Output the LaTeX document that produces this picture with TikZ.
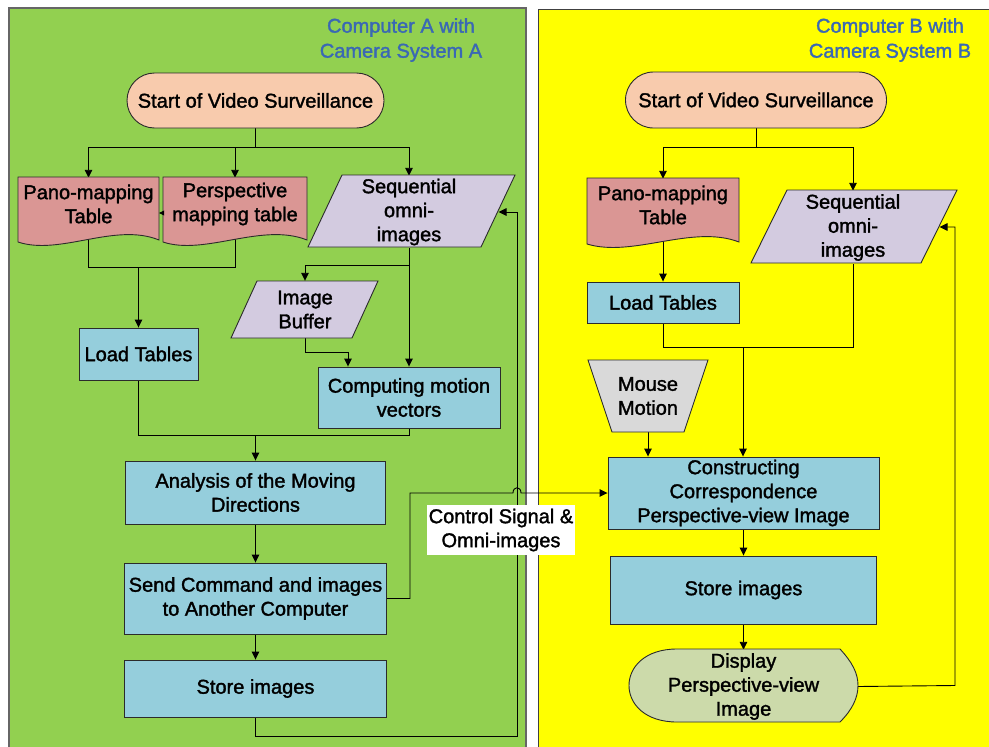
\documentclass[tikz,border=0pt]{standalone}
\usepackage{fontspec}
\setmainfont{Liberation Sans}
\newfontfamily\heavysans{Liberation Sans}[FakeBold=1.6]
\usetikzlibrary{arrows.meta,calc}

\definecolor{panelgreen}{HTML}{92D050}
\definecolor{panelyellow}{HTML}{FFFF00}
\definecolor{startfill}{HTML}{F8CBAD}
\definecolor{tablefill}{HTML}{DA9694}
\definecolor{datafill}{HTML}{D3CBE0}
\definecolor{procfill}{HTML}{95CEDC}
\definecolor{manualfill}{HTML}{D9D9D9}
\definecolor{displayfill}{HTML}{CCDAAA}
\definecolor{titleblue}{HTML}{3A68B4}
\definecolor{edge}{HTML}{2B2B2B}

\newcommand\diagfont{\heavysans\fontsize{20}{24}\selectfont}
\newcommand\titlefont{\heavysans\fontsize{20}{25}\selectfont}

\pgfdeclarelayer{panel}
\pgfdeclarelayer{wires}
\pgfsetlayers{panel,wires,main}

\begin{document}
\begin{tikzpicture}[x=1pt,y=-1pt,
  txt/.style={inner sep=0pt,align=center,font=\diagfont},
  proc/.style={txt,draw=edge,line width=0.9pt,fill=procfill},
  outline/.style={draw=edge,line width=0.9pt},
  wire/.style={line width=0.9pt,draw=black},
  arr/.style={wire,-{Triangle[length=8pt,width=7.5pt]}},
  title/.style={inner sep=0pt,align=center,font=\titlefont,text=titleblue}]

\useasboundingbox (0,0) rectangle (989,747);

% ---------------- panels ----------------
\begin{pgfonlayer}{panel}
  \fill[white] (0,0) rectangle (989,747);
  \draw[fill=panelgreen,draw=black!60,line width=1.3pt] (9,8) rectangle (526,760);
  \draw[fill=panelyellow,draw=black!75,line width=1pt] (538,9) rectangle (1000,760);
  \node[title] (titleA) at (401,40) {Computer A with\\Camera System A};
  \node[title] (titleB) at (890,40) {Computer B with\\Camera System B};
\end{pgfonlayer}

% ---------------- computer A ----------------
\node[txt,draw=edge,line width=0.9pt,fill=startfill,rounded corners=27.5pt,
      minimum width=257pt,minimum height=55pt] (startA) at (255.5,100.5)
      {Start of Video Surveillance};

% stored tables (document symbols)
\filldraw[outline,fill=tablefill] (18,177) -- (159,177) -- (159,240)
  .. controls (115,222) and (60,256) .. (18,242) -- cycle;
\filldraw[outline,fill=tablefill] (163,177) -- (307,177) -- (307,240)
  .. controls (262,222) and (205,256) .. (163,242) -- cycle;
\node[txt,minimum width=141pt,minimum height=52pt] (panoA) at (88.5,204)
  {Pano-mapping\\Table};
\node[txt,minimum width=144pt,minimum height=52pt] (perspA) at (235,204)
  {Perspective\\mapping table};

% image data (parallelograms)
\filldraw[outline,fill=datafill] (342,175) -- (515,175) -- (481,247) -- (308,247) -- cycle;
\node[txt,minimum width=150pt,minimum height=72pt] (omniA) at (409,212)
  {Sequential\\omni-\\images};
\filldraw[outline,fill=datafill] (257,281) -- (378,281) -- (352,338) -- (231,338) -- cycle;
\node[txt,minimum width=100pt,minimum height=57pt] (bufA) at (305,309.5)
  {Image\\Buffer};

% processes
\node[proc,minimum width=119pt,minimum height=52pt] (loadA) at (138.5,354) {Load Tables};
\node[proc,minimum width=182pt,minimum height=61pt] (compA) at (409,397.5)
  {Computing motion\\vectors};
\node[proc,minimum width=260pt,minimum height=63pt] (analA) at (255.5,492.5)
  {Analysis of the Moving\\Directions};
\node[proc,minimum width=262pt,minimum height=71pt] (sendA) at (255.5,598.5)
  {Send Command and images\\to Another Computer};
\node[proc,minimum width=262pt,minimum height=57pt] (storeA) at (255.5,688.5)
  {Store images};

\draw[-{Triangle[length=5pt,width=5pt]},line width=0.6pt]
  ([yshift=-9pt]perspA.west) -- ([yshift=-9pt]panoA.east);

% ---------------- computer B ----------------
\node[txt,draw=edge,line width=0.9pt,fill=startfill,rounded corners=28pt,
      minimum width=261pt,minimum height=56pt] (startB) at (756,100)
      {Start of Video Surveillance};

\filldraw[outline,fill=tablefill] (587,178) -- (739,178) -- (739,242)
  .. controls (692,224) and (633,258) .. (587,244) -- cycle;
\node[txt,minimum width=152pt,minimum height=52pt] (panoB) at (663,205)
  {Pano-mapping\\Table};

\filldraw[outline,fill=datafill] (787,190) -- (957,190) -- (921,263) -- (751,263) -- cycle;
\node[txt,minimum width=150pt,minimum height=73pt] (omniB) at (853,227.5)
  {Sequential\\omni-\\images};

\node[proc,minimum width=152pt,minimum height=41pt] (loadB) at (663,302.5) {Load Tables};

% manual input (trapezoid)
\filldraw[outline,fill=manualfill] (588,360) -- (708,360) -- (684,432) -- (612,432) -- cycle;
\node[txt,minimum width=96pt,minimum height=72pt] (mouseB) at (648,396) {Mouse\\Motion};

\node[proc,minimum width=271pt,minimum height=72pt] (constB) at (743.5,493)
  {Constructing\\Correspondence\\Perspective-view Image};
\node[proc,minimum width=266pt,minimum height=68pt] (storeB) at (743.5,590)
  {Store images};

% display symbol
\filldraw[outline,fill=displayfill] (677,649) -- (840,649)
  .. controls (852,662) and (858,673) .. (858,685.5)
  .. controls (858,698) and (852,710) .. (840,722) -- (677,722)
  .. controls (645,722) and (629,704) .. (629,685.5)
  .. controls (629,667) and (645,649) .. (677,649) -- cycle;
\node[txt,minimum width=229pt,minimum height=73pt] (displayB) at (743.5,686.5)
  {Display\\Perspective-view\\Image};

% link label
\node[txt,fill=white,minimum width=148pt,minimum height=50pt] (signal) at (501,530)
  {Control Signal \&\\Omni-images};

% ---------------- connectors ----------------
\begin{pgfonlayer}{wires}
  % computer A
  \coordinate (splitA) at (255.5,147);
  \draw[wire] (startA.south) -- (splitA);
  \draw[arr] (splitA) -| (panoA.north);
  \draw[arr] (splitA) -| (perspA.north);
  \draw[arr] (splitA) -| (omniA.north);

  \coordinate (mergeT) at (138.5,267);
  \draw[wire] (panoA.south) |- (mergeT);
  \draw[wire] (perspA.south) |- (mergeT);
  \draw[arr] (mergeT) -- (loadA.north);

  \coordinate (omniSplit) at (409,265);
  \draw[arr] (omniA.south) -- (compA.north);
  \draw[arr] (omniSplit) -| (bufA.north);
  \coordinate (bufTurn) at (348,352);
  \draw[arr] (bufA.south) |- (bufTurn) -- (bufTurn |- compA.north);

  \coordinate (mergeM) at (255.5,435);
  \draw[wire] (loadA.south) |- (mergeM);
  \draw[wire] (compA.south) |- (mergeM);
  \draw[arr] (mergeM) -- (analA.north);

  \draw[arr] (analA.south) -- (sendA.north);
  \draw[arr] (sendA.south) -- (storeA.north);

  \coordinate (loopA) at (517,736);
  \coordinate (omniAin) at (498.5,212);
  \draw[arr] (storeA.south) |- (loopA) |- (omniAin);

  % link to computer B, hopping over the return line
  \coordinate (sendUp) at (410,493);
  \draw[arr] (sendA.east) -| (sendUp) -- (513,493)
    .. controls (513,486) and (521,486) .. (521,493) -- (constB.west);

  % computer B
  \coordinate (splitB) at (756,147);
  \draw[wire] (startB.south) -- (splitB);
  \draw[arr] (splitB) -| (panoB.north);
  \draw[arr] (splitB) -| (omniB.north);

  \draw[arr] (panoB.south) -- (loadB.north);

  \coordinate (mergeB) at (743,347);
  \draw[wire] (loadB.south) |- (mergeB);
  \draw[wire] (omniB.south) |- (mergeB);
  \draw[arr] (mergeB) -- (mergeB |- constB.north);
  \draw[arr] (mouseB.south) -- (mouseB.south |- constB.north);

  \draw[arr] (constB.south) -- (storeB.north);
  \draw[arr] (storeB.south) -- (displayB.north);

  \coordinate (loopB) at (955,685.5);
  \coordinate (omniBin) at (939.5,227);
  \draw[arr] (displayB.east) -- (loopB) |- (omniBin);
\end{pgfonlayer}

\end{tikzpicture}
\end{document}
